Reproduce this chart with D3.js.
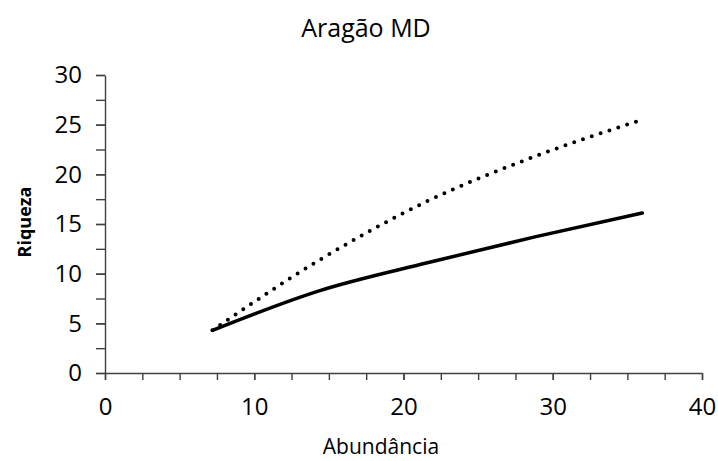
<!DOCTYPE html>
<meta charset="utf-8">
<style>
body { margin: 0; background: #fff; }
text { font-family: "Open Sans", sans-serif; fill: #000; }
.axis text { font-size: 24px; fill: #000; }
.axis path, .axis line { stroke: #404040; stroke-width: 1.4px; }
</style>
<svg width="718" height="461"></svg>
<script src="https://d3js.org/d3.v7.min.js"></script>
<script>

// sample sizes (abundance) and the two richness curves
var abundance = [7.2, 14.4, 21.6, 28.8, 36];
var observed = [4.3, 8.3, 11.1, 13.7, 16.1];
var estimated = [4.3, 11.4, 17.3, 21.8, 25.5];

var xTicks = [0, 10, 20, 30, 40];
var yTicks = [0, 5, 10, 15, 20, 25, 30];

var svg = d3.select("svg"),
    margin = {top: 75, left: 105, right: 16, bottom: 88},
    width = 718 - margin.left - margin.right,
    height = 461 - margin.top - margin.bottom;

var x = d3.scaleLinear().domain([0, 40]).range([0, width]);
var y = d3.scaleLinear().domain([0, 30]).range([height, 0]);

var g = svg.append("g")
    .attr("transform", "translate(" + margin.left + "," + margin.top + ")");

// minor ticks every 2.5
g.append("g")
    .attr("class", "axis")
    .attr("transform", "translate(0," + height + ")")
    .call(d3.axisBottom(x).tickValues(d3.range(0, 40.1, 2.5)).tickSize(7).tickFormat(""))
    .call(function(s) { s.select(".domain").remove(); });
g.append("g")
    .attr("class", "axis")
    .call(d3.axisLeft(y).tickValues(d3.range(0, 30.1, 2.5)).tickSize(9).tickFormat(""))
    .call(function(s) { s.select(".domain").remove(); });

g.append("g")
    .attr("class", "axis")
    .attr("transform", "translate(0," + height + ")")
    .call(d3.axisBottom(x).tickValues(xTicks).tickSize(7).tickPadding(18).tickSizeOuter(0));

g.append("g")
    .attr("class", "axis")
    .call(d3.axisLeft(y).tickValues(yTicks).tickSize(9).tickPadding(14).tickSizeOuter(0));

var line = d3.line()
    .curve(d3.curveMonotoneX)
    .x(function(d) { return x(d[0]); })
    .y(function(d) { return y(d[1]); });

g.append("path")
    .datum(d3.zip(abundance, estimated))
    .attr("d", line)
    .attr("fill", "none")
    .attr("stroke", "#000")
    .attr("stroke-width", 4)
    .attr("stroke-linecap", "round")
    .attr("stroke-dasharray", "0,9.3");

g.append("path")
    .datum(d3.zip(abundance, observed))
    .attr("d", line)
    .attr("fill", "none")
    .attr("stroke", "#000")
    .attr("stroke-width", 3.5)
    .attr("stroke-linejoin", "round")
    .attr("stroke-linecap", "round");

svg.append("text")
    .attr("x", 366)
    .attr("y", 37)
    .attr("text-anchor", "middle")
    .style("font-size", "25px")
    .text("Aragão MD");

svg.append("text")
    .attr("x", 381)
    .attr("y", 454)
    .attr("text-anchor", "middle")
    .style("font-size", "21px")
    .text("Abundância");

svg.append("text")
    .attr("transform", "translate(31,222) rotate(-90)")
    .attr("text-anchor", "middle")
    .style("font-size", "18px")
    .style("font-weight", "bold")
    .text("Riqueza");

</script>
